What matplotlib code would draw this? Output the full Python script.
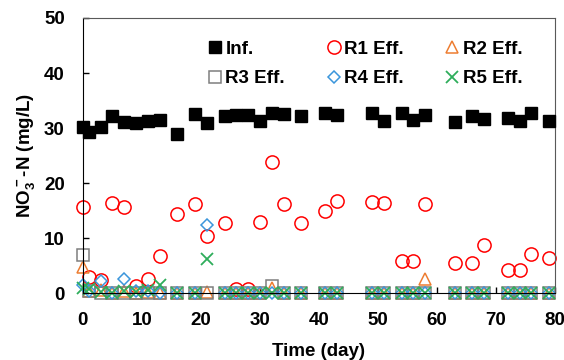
import matplotlib.pyplot as plt

plt.rcParams['font.family'] = ['Liberation Sans', 'DejaVu Sans']
plt.rcParams['font.weight'] = 'bold'
plt.rcParams['mathtext.fontset'] = 'custom'
plt.rcParams['mathtext.rm'] = 'Liberation Sans:bold'
plt.rcParams['mathtext.bf'] = 'Liberation Sans:bold'
plt.rcParams['mathtext.default'] = 'bf'

# sampling days
dias = [0, 1, 3, 5, 7, 9, 11, 13, 16, 19, 21, 24, 26, 28, 30, 32, 34, 37,
        41, 43, 49, 51, 54, 56, 58, 63, 66, 68, 72, 74, 76, 79]

inf = [30.1, 29.2, 30.1, 32.2, 31.1, 30.9, 31.3, 31.5, 29.0, 32.5, 31.0, 32.2,
       32.4, 32.4, 31.3, 32.7, 32.6, 32.1, 32.7, 32.4, 32.7, 31.2, 32.8, 31.5,
       32.4, 31.1, 32.2, 31.6, 31.8, 31.3, 32.7, 31.3]

r1 = [15.6, 2.9, 2.4, 16.3, 15.7, 1.3, 2.5, 6.7, 14.4, 16.2, 10.4, 12.7,
      0.8, 0.8, 13.0, 23.8, 16.2, 12.8, 14.9, 16.8, 16.6, 16.4, 5.8, 5.9,
      16.1, 5.5, 5.5, 8.7, 4.1, 4.2, 7.1, 6.4]

r2 = [4.7, 0.3, 0.5, 0.0, 0.3, 0.0, 0.2, 0.0, 0.0, 0.0, 0.2, 0.0,
      0.0, 0.0, 0.0, 1.0, 0.0, 0.0, 0.0, 0.0, 0.0, 0.0, 0.0, 0.0,
      2.5, 0.0, 0.0, 0.0, 0.0, 0.0, 0.0, 0.0]

r3 = [6.9, 0.4, 0.0, 0.0, 0.0, 0.0, 0.0, 0.0, 0.0, 0.0, 0.0, 0.0,
      0.0, 0.0, 0.0, 1.3, 0.0, 0.0, 0.0, 0.0, 0.0, 0.0, 0.0, 0.0,
      0.0, 0.0, 0.0, 0.0, 0.0, 0.0, 0.0, 0.0]

r4 = [1.5, 0.3, 2.1, 0.0, 2.5, 0.4, 0.3, 0.0, 0.0, 0.0, 12.4, 0.0,
      0.0, 0.0, 0.0, 0.0, 0.0, 0.0, 0.0, 0.0, 0.0, 0.0, 0.0, 0.0,
      0.0, 0.0, 0.0, 0.0, 0.0, 0.0, 0.0, 0.0]

r5 = [1.0, 0.7, 0.2, 0.0, 0.3, 0.2, 0.5, 1.4, 0.0, 0.0, 6.1, 0.0,
      0.0, 0.0, 0.0, 0.0, 0.0, 0.0, 0.0, 0.0, 0.0, 0.0, 0.0, 0.0,
      0.0, 0.0, 0.0, 0.0, 0.0, 0.0, 0.0, 0.0]

fig = plt.figure(figsize=(5.64, 3.6), dpi=100)
ax = fig.add_axes([0.147, 0.186, 0.837, 0.764])

h_inf, = ax.plot(dias, inf, 's', color='black', markersize=9, label='Inf.', clip_on=False, zorder=3)
h_r1, = ax.plot(dias, r1, 'o', mfc='none', mec='#FF0000', mew=1.1, markersize=9.5, label='R1 Eff.', clip_on=False)
h_r2, = ax.plot(dias, r2, '^', mfc='none', mec='#ED7D31', mew=1.1, markersize=9, label='R2 Eff.', clip_on=False)
h_r3, = ax.plot(dias, r3, 's', mfc='none', mec='#7F7F7F', mew=1.1, markersize=9, label='R3 Eff.', clip_on=False)
h_r4, = ax.plot(dias, r4, 'D', mfc='none', mec='#3B96DB', mew=1.1, markersize=6.5, label='R4 Eff.', clip_on=False)
h_r5, = ax.plot(dias, r5, 'x', color='#2EAD5B', mew=1.3, markersize=8, label='R5 Eff.', clip_on=False)

ax.set_xlim(0, 80)
ax.set_ylim(0, 50)
ax.set_xticks(range(0, 81, 10))
ax.set_yticks(range(0, 51, 10))
ax.tick_params(direction='in', length=4, width=1, labelsize=13.5)
ax.tick_params(axis='y', pad=13)
ax.tick_params(axis='x', pad=14)
for s in ['left', 'bottom']:
    ax.spines[s].set_color('black')
for s in ['top', 'right']:
    ax.spines[s].set_color('#595959')
ax.set_xlabel('Time (day)', fontsize=13.5, fontweight='bold', labelpad=10)
ax.set_ylabel('NO$_3^-$-N (mg/L)', fontsize=13.5, fontweight='bold', labelpad=5)

ax.legend([h_inf, h_r3, h_r1, h_r4, h_r2, h_r5],
          ['Inf.', 'R3 Eff.', 'R1 Eff.', 'R4 Eff.', 'R2 Eff.', 'R5 Eff.'],
          ncol=3, loc='upper left', bbox_to_anchor=(0.248, 0.945), frameon=False,
          fontsize=13.5, handletextpad=0.15, columnspacing=2.2, labelspacing=0.65,
          handlelength=0.8, borderaxespad=0)

fig.savefig('out.png', dpi=100)
